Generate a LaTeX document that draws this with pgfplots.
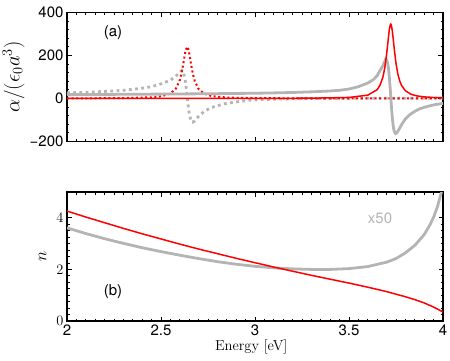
\documentclass[border=0pt]{standalone}
\usepackage{fontspec}
\usepackage{pgfplots}
\pgfplotsset{compat=1.18}
\newfontfamily\helv{TeX Gyre Heros}
\definecolor{lgray}{RGB}{180,180,180}
\definecolor{pred}{RGB}{255,0,0}

\pgfplotsset{
  panel/.style={
    scale only axis, width=376pt, height=129pt,
    xmin=2, xmax=4, xtick={2,2.5,3,3.5,4},
    minor x tick num=9,
    tick align=inside,
    axis line style={line width=1.5pt},
    major tick length=4.5pt, minor tick length=2.5pt,
    every tick/.style={black, line width=0.9pt},
    tick label style={font=\helv\fontsize{15}{15}\selectfont},
    clip=true,
  },
  gsol/.style={color=lgray, line width=2.8pt, no markers},
  gdot/.style={color=lgray, line width=2.8pt, dash pattern=on 2.8pt off 3.4pt, no markers},
  rsol/.style={color=pred, line width=1.5pt, no markers},
  rdot/.style={color=pred, line width=2pt, dash pattern=on 2pt off 2.6pt, no markers},
}

\begin{document}
\begin{tikzpicture}
\path[use as bounding box] (0,0) rectangle (450pt,-361pt);

% (a) polarizability
\begin{axis}[panel, at={(67pt,-141.5pt)}, anchor=south west,
  ymin=-200, ymax=400, ytick={-200,0,200,400},
  yticklabels={−200,0,200,400},
  minor y tick num=4,
  xticklabels={},
  ylabel={\fontsize{19.5}{24}\selectfont$\alpha/(\epsilon_0 a^3)$},
  ylabel style={at={(axis description cs:0,0.5)}, anchor=south, yshift=39pt},
]
\addplot[gdot] coordinates {
(2.00,26) (2.10,29) (2.20,33) (2.30,38) (2.40,48) (2.45,55) (2.50,68)
(2.55,85) (2.58,105) (2.60,122) (2.61,131) (2.62,120) (2.63,78) (2.635,44)
(2.64,5) (2.645,-38) (2.65,-70) (2.66,-104) (2.668,-110) (2.68,-104)
(2.70,-83) (2.73,-60) (2.77,-41) (2.84,-24) (2.90,-16) (2.97,-8)
(3.10,-3) (3.30,0) (3.60,1) (4.00,2)};
\addplot[rdot] coordinates {
(2.00,0.5) (2.30,1.8) (2.45,5.5) (2.50,10) (2.55,23) (2.58,47) (2.60,86)
(2.61,120) (2.62,169) (2.63,220) (2.639,241) (2.645,231) (2.65,211)
(2.66,158) (2.67,112) (2.68,80) (2.70,44) (2.73,22) (2.77,11) (2.85,4.5)
(3.00,1.5) (3.50,0.3) (4.00,0.1)};
\addplot[gsol] coordinates {
(2.00,18) (2.20,19) (2.40,20) (2.60,21) (2.80,22.5) (3.00,24.5) (3.10,26)
(3.20,28) (3.30,31) (3.40,35) (3.45,38) (3.50,44) (3.55,55) (3.60,72)
(3.63,88) (3.65,106) (3.665,130) (3.68,152) (3.69,172) (3.695,183)
(3.70,180) (3.705,167) (3.71,140) (3.715,95) (3.72,36) (3.725,-29)
(3.73,-86) (3.735,-127) (3.74,-151) (3.748,-163) (3.755,-159) (3.765,-145)
(3.78,-121) (3.80,-95) (3.825,-74) (3.85,-60) (3.87,-50) (3.90,-41)
(3.93,-34) (3.96,-28) (4.00,-23)};
\addplot[rsol] coordinates {
(2.00,0) (3.00,0.5) (3.30,1.4) (3.50,4.9) (3.60,15.6) (3.65,41) (3.665,62)
(3.68,98) (3.69,141) (3.70,205) (3.705,245) (3.71,287) (3.715,324)
(3.72,344) (3.722,346) (3.725,342) (3.73,317) (3.735,279) (3.74,237)
(3.75,164) (3.76,113) (3.77,81) (3.78,60) (3.80,36) (3.83,19.6)
(3.86,12.3) (3.90,7.5) (3.95,4.6) (4.00,3.1)};
\node[font=\helv\fontsize{15}{15}\selectfont] at (axis cs:2.245,305) {(a)};
\end{axis}

% (b) refractive index
\begin{axis}[panel, at={(67pt,-321pt)}, anchor=south west,
  ymin=0, ymax=5, ytick={0,2,4},
  minor y tick num=7,
  xticklabels={2,2.5,3,3.5,4},
  ylabel={\fontsize{19}{22}\selectfont$n$},
  ylabel style={at={(axis description cs:0,0.5)}, anchor=south, yshift=17pt},
  xlabel={\fontsize{14.5}{16}\selectfont Energy [eV]},
  xlabel style={at={(axis description cs:0.49,0)}, anchor=base, yshift=-29pt},
]
\addplot[gsol] coordinates {
(2.0,3.61) (2.1,3.39) (2.2,3.19) (2.3,3.01) (2.4,2.84) (2.5,2.69) (2.6,2.55)
(2.7,2.42) (2.8,2.30) (2.9,2.20) (3.0,2.12) (3.1,2.06) (3.2,2.02) (3.3,2.00)
(3.4,2.00) (3.5,2.03) (3.6,2.11) (3.7,2.28) (3.75,2.42) (3.8,2.64)
(3.85,2.93) (3.9,3.35) (3.93,3.72) (3.95,4.02) (3.97,4.42) (3.99,4.95) (4.0,5.3)};
\addplot[rsol] coordinates {
(2.0,4.26) (2.1,4.03) (2.2,3.81) (2.3,3.59) (2.4,3.38) (2.5,3.18) (2.6,2.98)
(2.7,2.79) (2.8,2.61) (2.9,2.43) (3.0,2.26) (3.1,2.09) (3.2,1.93) (3.3,1.77)
(3.4,1.62) (3.5,1.47) (3.6,1.31) (3.7,1.14) (3.8,0.94) (3.85,0.83) (3.9,0.70)
(3.95,0.54) (4.0,0.35)};
\node[font=\helv\fontsize{15}{15}\selectfont] at (axis cs:2.245,1.12) {(b)};
\node[font=\helv\fontsize{15}{15}\selectfont, text=lgray] at (axis cs:3.665,3.97) {x50};
\end{axis}
\end{tikzpicture}
\end{document}
